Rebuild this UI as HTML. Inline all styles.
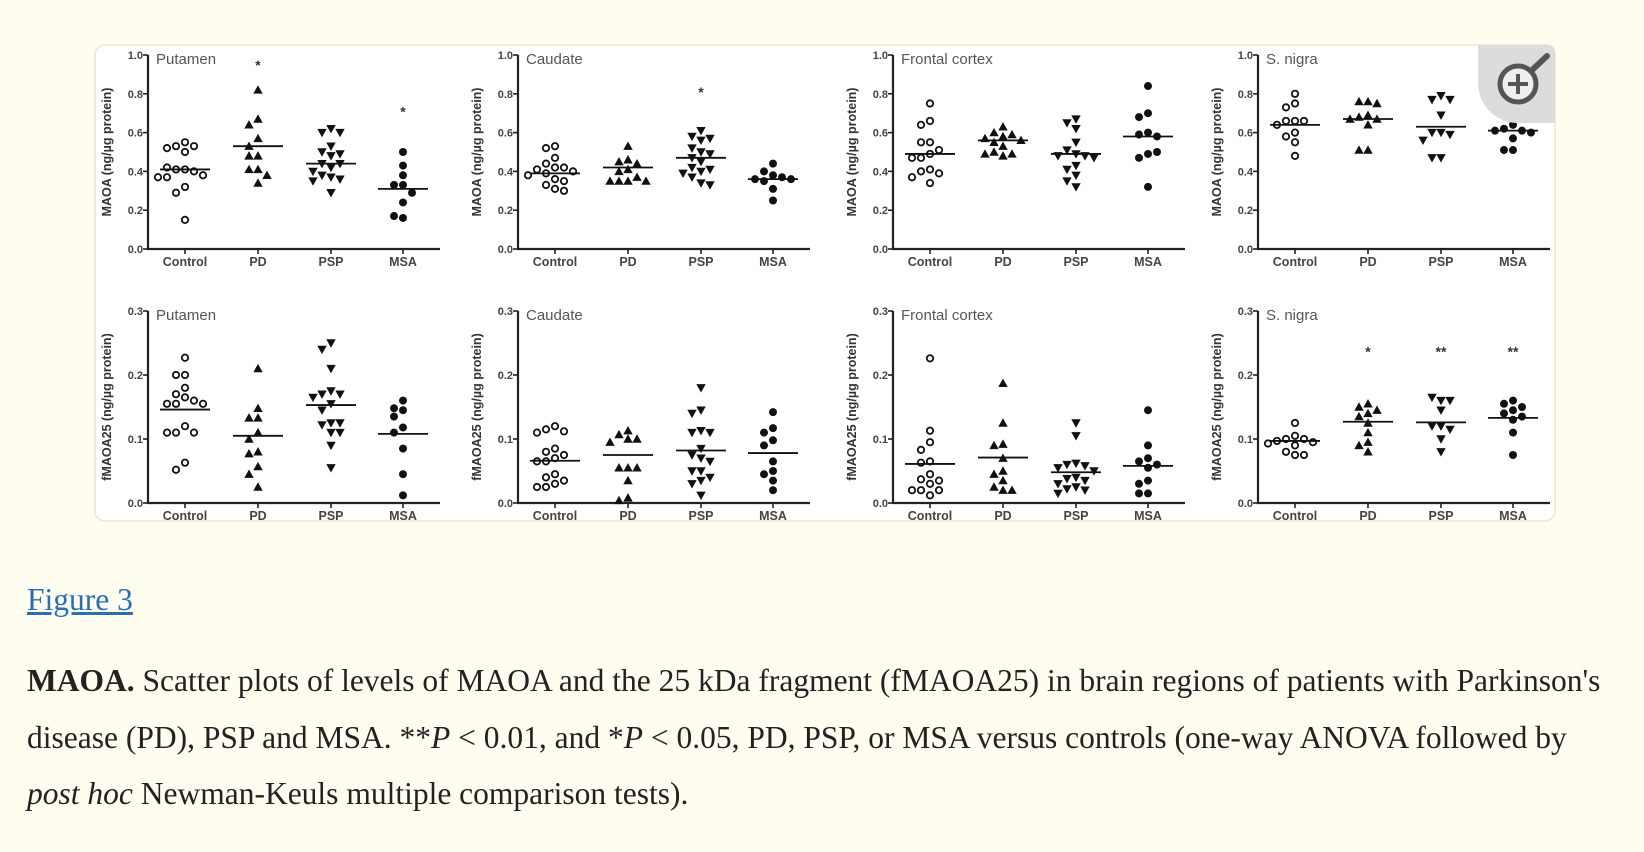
<!DOCTYPE html>
<html><head><meta charset="utf-8">
<style>
html,body{margin:0;padding:0;background:#fffcf0;width:1644px;height:852px;overflow:hidden}
#fig{position:absolute;left:0;top:0}
.cap{position:absolute;left:27px;font-family:"Liberation Serif",serif;font-size:31.5px;color:#222;white-space:nowrap;line-height:34px}
#figlink{position:absolute;left:27px;top:583px;font-family:"Liberation Serif",serif;font-size:31.5px;color:#2a6fb0;text-decoration:underline;line-height:34px}
</style></head><body>
<svg id="fig" width="1644" height="560" xmlns="http://www.w3.org/2000/svg">
<rect x="95" y="45" width="1460" height="476" rx="10" fill="#fff" stroke="#f5e2d0" stroke-width="1.5"/>
<g id="plots"></g>
<g>
<path d="M1478 45 H1548 A7 7 0 0 1 1555 52 V123 H1518 A40 40 0 0 1 1478 83 Z" fill="#dcdcdc"/>
<line x1="1530" y1="72" x2="1547" y2="56" stroke="#555" stroke-width="6" stroke-linecap="round"/>
<circle cx="1518" cy="84" r="18" fill="#eee" stroke="#555" stroke-width="5"/>
<line x1="1508" y1="84" x2="1528" y2="84" stroke="#555" stroke-width="4"/>
<line x1="1518" y1="74" x2="1518" y2="94" stroke="#555" stroke-width="4"/>
</g>
</svg>
<a id="figlink" href="#">Figure 3</a>
<div class="cap" style="top:664px"><b>MAOA.</b> Scatter plots of levels of MAOA and the 25 kDa fragment (fMAOA25) in brain regions of patients with Parkinson's</div>
<div class="cap" style="top:721px">disease (PD), PSP and MSA. **<i>P</i> &lt; 0.01, and *<i>P</i> &lt; 0.05, PD, PSP, or MSA versus controls (one-way ANOVA followed by</div>
<div class="cap" style="top:777px"><i>post hoc</i> Newman-Keuls multiple comparison tests).</div>
<script>
const categories=["Control","PD","PSP","MSA"];
const regions=["Putamen","Caudate","Frontal cortex","S. nigra"];
// top row: MAOA
const maoaPutamen=[[0.55,0.53,0.53,0.52,0.50,0.41,0.41,0.40,0.42,0.38,0.37,0.37,0.32,0.29,0.15],[0.82,0.67,0.64,0.57,0.53,0.48,0.48,0.41,0.41,0.38,0.34],[0.62,0.60,0.60,0.53,0.50,0.49,0.48,0.44,0.44,0.42,0.40,0.38,0.37,0.36,0.35,0.29],[0.50,0.43,0.38,0.33,0.33,0.29,0.24,0.16,0.17]];
const maoaCaudate=[[0.53,0.52,0.47,0.44,0.42,0.42,0.41,0.40,0.39,0.38,0.36,0.35,0.33,0.31,0.30],[0.53,0.46,0.45,0.44,0.41,0.40,0.37,0.35,0.35,0.35,0.35],[0.61,0.58,0.57,0.56,0.52,0.50,0.49,0.47,0.45,0.42,0.41,0.40,0.39,0.37,0.34,0.33],[0.44,0.40,0.38,0.37,0.36,0.36,0.35,0.31,0.25]];
const maoaFrontal=[[0.75,0.66,0.64,0.55,0.55,0.51,0.49,0.47,0.47,0.41,0.40,0.39,0.37,0.34],[0.63,0.60,0.59,0.58,0.57,0.56,0.55,0.53,0.50,0.49,0.49,0.48],[0.67,0.65,0.62,0.55,0.51,0.49,0.48,0.48,0.47,0.43,0.41,0.38,0.35,0.32],[0.84,0.70,0.68,0.60,0.59,0.58,0.49,0.47,0.50,0.32]];
const maoaNigra=[[0.80,0.75,0.73,0.66,0.66,0.66,0.64,0.60,0.58,0.55,0.48],[0.76,0.76,0.75,0.69,0.68,0.67,0.67,0.64,0.51,0.51],[0.79,0.77,0.77,0.69,0.60,0.60,0.59,0.56,0.47,0.47],[0.64,0.62,0.61,0.61,0.60,0.57,0.51,0.51]];
const maoaMeans=[[0.41,0.53,0.44,0.31],[0.39,0.42,0.47,0.36],[0.49,0.56,0.49,0.58],[0.64,0.67,0.63,0.61]];
const maoaStars=[["","*","","*"],["","","*",""],["","","",""],["","","",""]];
const maoaStarY=[[0,0.96,0,0.72],[0,0,0.82,0],[0,0,0,0],[0,0,0,0]];
const maoaTicks=["0.0","0.2","0.4","0.6","0.8","1.0"];
// bottom row: fMAOA25
const fPutamen=[[0.227,0.20,0.20,0.18,0.17,0.165,0.16,0.155,0.155,0.155,0.12,0.11,0.11,0.11,0.063,0.052],[0.21,0.148,0.133,0.133,0.11,0.10,0.08,0.077,0.057,0.045,0.025],[0.25,0.24,0.21,0.175,0.17,0.17,0.165,0.155,0.145,0.125,0.122,0.125,0.11,0.11,0.09,0.055],[0.16,0.148,0.145,0.135,0.118,0.11,0.085,0.045,0.012]];
const fCaudate=[[0.12,0.115,0.112,0.11,0.085,0.08,0.075,0.07,0.065,0.065,0.045,0.04,0.035,0.03,0.025,0.025],[0.113,0.107,0.10,0.10,0.095,0.055,0.055,0.055,0.035,0.008,0.004],[0.18,0.145,0.14,0.113,0.11,0.11,0.085,0.075,0.07,0.065,0.05,0.05,0.04,0.035,0.03,0.012],[0.142,0.117,0.11,0.098,0.09,0.065,0.05,0.045,0.035,0.02]];
const fFrontal=[[0.226,0.113,0.095,0.083,0.065,0.063,0.045,0.037,0.035,0.03,0.02,0.02,0.02,0.012],[0.187,0.125,0.092,0.09,0.07,0.05,0.045,0.035,0.025,0.02,0.02],[0.125,0.105,0.062,0.06,0.058,0.055,0.05,0.04,0.038,0.035,0.03,0.025,0.022,0.02,0.015],[0.145,0.09,0.07,0.065,0.06,0.055,0.035,0.03,0.015,0.015]];
const fNigra=[[0.125,0.105,0.10,0.10,0.097,0.095,0.093,0.09,0.08,0.075,0.075],[0.155,0.15,0.145,0.14,0.135,0.125,0.11,0.095,0.09,0.08],[0.16,0.165,0.16,0.145,0.12,0.12,0.115,0.10,0.08],[0.16,0.155,0.15,0.145,0.14,0.135,0.13,0.11,0.075]];
const fMeans=[[0.146,0.105,0.153,0.108],[0.066,0.075,0.082,0.078],[0.061,0.071,0.048,0.058],[0.097,0.127,0.126,0.133]];
const fStars=[["","","",""],["","","",""],["","","",""],["","*","**","**"]];
const fStarY=[[0,0,0,0],[0,0,0,0],[0,0,0,0],[0,0.24,0.24,0.24]];
const fTicks=["0.0","0.1","0.2","0.3"];

const NS="http://www.w3.org/2000/svg";
const root=document.getElementById('plots');
function mk(tag,attrs,parent){const e=document.createElementNS(NS,tag);for(const k in attrs)e.setAttribute(k,attrs[k]);(parent||root).appendChild(e);return e;}
const axisX=[148,518,893,1258];
const catOff=[37,110,183,255];
const rows=[
 {data:[maoaPutamen,maoaCaudate,maoaFrontal,maoaNigra],means:maoaMeans,stars:maoaStars,starY:maoaStarY,ticks:maoaTicks,max:1.0,y0:249,h:194,title:"MAOA (ng/\u00b5g protein)",name:"maoa"},
 {data:[fPutamen,fCaudate,fFrontal,fNigra],means:fMeans,stars:fStars,starY:fStarY,ticks:fTicks,max:0.3,y0:503,h:192,title:"fMAOA25 (ng/\u00b5g protein)",name:"fmaoa25"}];
function marker(g,shape,cx,cy){
 const s=4.2;let e;
 if(shape===0){e=mk('circle',{cx:cx,cy:cy,r:3.2,fill:'#fff',stroke:'#111','stroke-width':1.8},g);}
 else if(shape===1){e=mk('polygon',{points:`${cx},${cy-s-0.5} ${cx-s-0.5},${cy+s-0.5} ${cx+s+0.5},${cy+s-0.5}`,fill:'#111'},g);}
 else if(shape===2){e=mk('polygon',{points:`${cx-s-0.5},${cy-s+0.5} ${cx+s+0.5},${cy-s+0.5} ${cx},${cy+s+0.5}`,fill:'#111'},g);}
 else {e=mk('circle',{cx:cx,cy:cy,r:4,fill:'#111'},g);}
 return e;
}
rows.forEach((row,ri)=>{
 const ys=v=>row.y0-v/row.max*row.h;
 row.data.forEach((groups,pi)=>{
  const ax=axisX[pi];
  const g=mk('g',{});
  
  
  const xs=ci=>ax+catOff[ci];
  const ya=mk('line',{x1:ax,y1:ys(row.max),x2:ax,y2:row.y0+1,stroke:'#222','stroke-width':2.2},g);
  
  
  const xa=mk('line',{x1:ax-1,y1:row.y0,x2:ax+292,y2:row.y0,stroke:'#222','stroke-width':2.2},g);
  
  
  row.ticks.forEach(t=>{
   const y=ys(parseFloat(t));
   mk('line',{x1:ax-5,y1:y,x2:ax,y2:y,stroke:'#222','stroke-width':1.6},g);
   const tl=mk('text',{x:ax-5,y:y+4,'text-anchor':'end','font-family':'Liberation Sans, sans-serif','font-size':11,'font-weight':'bold',fill:'#444'},g);
   tl.textContent=t;
   
   
  });
  const yt=mk('text',{x:0,y:0,transform:`translate(${ax-37},${row.y0-row.h/2}) rotate(-90)`,'text-anchor':'middle','font-family':'Liberation Sans, sans-serif','font-size':12.5,'font-weight':'bold',fill:'#333'},g);
  yt.textContent=row.title;
  
  
  const pt=mk('text',{x:ax+8,y:ys(row.max)+9,'font-family':'Liberation Sans, sans-serif','font-size':15,fill:'#555'},g);
  pt.textContent=regions[pi];
  
  
  categories.forEach((c,ci)=>{
   mk('line',{x1:xs(ci),y1:row.y0,x2:xs(ci),y2:row.y0+5,stroke:'#222','stroke-width':1.6},g);
   const cl=mk('text',{x:xs(ci),y:row.y0+17,'text-anchor':'middle','font-family':'Liberation Sans, sans-serif','font-size':12.5,'font-weight':'bold',fill:'#444'},g);
   cl.textContent=c;
   
   
   const vals=groups[ci];const placed=[];
   const offs=[0,-9,9,-18,18,-27,27,-36,36];
   vals.forEach(v=>{
    const y=ys(v);
    let dx=0;
    for(const o of offs){ if(!placed.some(p=>Math.abs(p.y-y)<8&&Math.abs(p.dx-o)<8)){dx=o;break;} }
    placed.push({y:y,dx:dx});
    const m=marker(g,ci,xs(ci)+dx,y);
    
    
   });
   const mean=row.means[pi][ci];
   const ml=mk('line',{x1:xs(ci)-25,y1:ys(mean),x2:xs(ci)+25,y2:ys(mean),stroke:'#111','stroke-width':1.8},g);
   
   
   const st=row.stars[pi][ci];
   if(st){
    const s=mk('text',{x:xs(ci),y:ys(row.starY[pi][ci])+7,'text-anchor':'middle','font-family':'Liberation Sans, sans-serif','font-size':14,'font-weight':'bold',fill:'#333'},g);
    s.textContent=st;
    
    
   }
  });
 });
});
</script>
</body></html>
